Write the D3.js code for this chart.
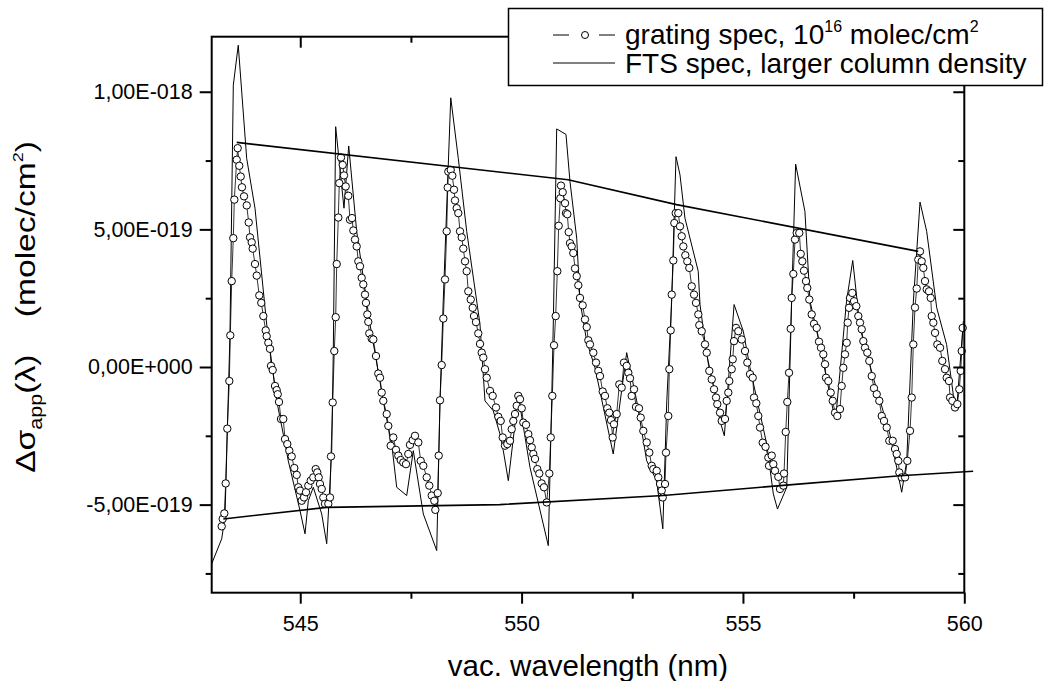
<!DOCTYPE html>
<html>
<head>
<meta charset="utf-8">
<script src="https://cdn.jsdelivr.net/npm/d3@7"></script>
<style>
  body { margin: 0; background: #fff; }
  svg { font-family: Arial, "Liberation Sans", sans-serif; }
</style>
</head>
<body>
<svg id="chart" width="1051" height="681"></svg>
<script>
// all y values below are in units of 1e-18 molec/cm2
const yUnit = 1e-18;

// grating spectrum, 10^16 molec/cm2 : [vac. wavelength nm, delta sigma]
const gratingSpec = [[543.226,-0.579],[543.248,-0.552],[543.285,-0.532],[543.316,-0.423],[543.352,-0.224],[543.398,-0.051],[543.420,0.115],[543.452,0.312],[543.488,0.468],[543.511,0.608],[543.565,0.753],[543.587,0.795],[543.623,0.731],[543.655,0.692],[543.684,0.653],[543.730,0.620],[543.791,0.587],[543.836,0.525],[543.865,0.471],[543.904,0.453],[543.926,0.430],[543.978,0.374],[544.017,0.332],[544.075,0.260],[544.120,0.233],[544.166,0.185],[544.220,0.133],[544.242,0.112],[544.279,0.088],[544.317,0.066],[544.340,0.004],[544.378,-0.011],[544.430,-0.069],[544.468,-0.084],[544.491,-0.099],[544.520,-0.127],[544.565,-0.189],[544.617,-0.189],[544.656,-0.262],[544.708,-0.280],[544.753,-0.304],[544.807,-0.325],[544.866,-0.367],[544.920,-0.392],[544.956,-0.437],[544.995,-0.449],[545.033,-0.486],[545.085,-0.474],[545.130,-0.455],[545.182,-0.431],[545.236,-0.413],[545.295,-0.401],[545.349,-0.371],[545.385,-0.383],[545.417,-0.401],[545.446,-0.425],[545.485,-0.443],[545.521,-0.474],[545.559,-0.497],[545.634,-0.497],[545.672,-0.474],[545.695,-0.325],[545.733,-0.129],[545.769,0.058],[545.801,0.181],[545.824,0.374],[545.860,0.543],[545.882,0.668],[545.921,0.761],[545.959,0.734],[545.988,0.696],[546.027,0.656],[546.086,0.622],[546.124,0.535],[546.169,0.541],[546.199,0.496],[546.237,0.463],[546.275,0.438],[546.312,0.384],[546.350,0.366],[546.388,0.324],[546.424,0.300],[546.463,0.263],[546.485,0.233],[546.515,0.191],[546.537,0.164],[546.560,0.122],[546.614,0.103],[546.650,0.100],[546.711,0.040],[546.763,-0.024],[546.802,-0.039],[546.840,-0.093],[546.876,-0.123],[546.953,-0.171],[546.989,-0.214],[547.043,-0.286],[547.102,-0.256],[547.163,-0.301],[547.215,-0.322],[547.269,-0.338],[547.328,-0.347],[547.389,-0.353],[547.441,-0.316],[547.479,-0.283],[547.540,-0.266],[547.592,-0.250],[547.667,-0.274],[547.721,-0.341],[547.780,-0.359],[547.857,-0.401],[547.915,-0.431],[547.970,-0.467],[548.028,-0.486],[548.051,-0.519],[548.105,-0.458],[548.128,-0.322],[548.157,-0.121],[548.195,0.007],[548.232,0.176],[548.270,0.318],[548.308,0.493],[548.331,0.652],[548.345,0.710],[548.399,0.716],[548.435,0.695],[548.473,0.644],[548.496,0.605],[548.534,0.577],[548.570,0.559],[548.609,0.493],[548.647,0.471],[548.683,0.430],[548.722,0.384],[548.760,0.348],[548.796,0.275],[548.851,0.245],[548.896,0.215],[548.925,0.185],[548.970,0.163],[549.022,0.122],[549.061,0.084],[549.099,0.052],[549.135,0.034],[549.174,-0.008],[549.212,-0.039],[549.287,-0.087],[549.347,-0.105],[549.422,-0.147],[549.474,-0.181],[549.528,-0.196],[549.573,-0.256],[549.625,-0.286],[549.677,-0.280],[549.738,-0.268],[549.777,-0.226],[549.813,-0.196],[549.851,-0.171],[549.890,-0.141],[549.926,-0.105],[549.964,-0.117],[550.003,-0.150],[550.039,-0.202],[550.100,-0.210],[550.152,-0.244],[550.190,-0.266],[550.229,-0.292],[550.265,-0.316],[550.303,-0.334],[550.355,-0.371],[550.400,-0.387],[550.454,-0.423],[550.506,-0.437],[550.567,-0.492],[550.626,-0.387],[550.658,-0.256],[550.694,-0.105],[550.732,0.079],[550.770,0.185],[550.807,0.348],[550.838,0.513],[550.875,0.613],[550.890,0.659],[550.929,0.635],[550.981,0.595],[551.003,0.559],[551.033,0.555],[551.064,0.490],[551.094,0.450],[551.132,0.438],[551.168,0.414],[551.207,0.358],[551.245,0.330],[551.281,0.297],[551.319,0.251],[551.380,0.224],[551.432,0.173],[551.471,0.145],[551.507,0.097],[551.545,0.082],[551.620,0.052],[551.681,0.016],[551.733,-0.014],[551.771,-0.033],[551.832,-0.089],[551.884,-0.105],[551.936,-0.150],[551.981,-0.166],[552.020,-0.193],[552.058,-0.256],[552.087,-0.208],[552.148,-0.171],[552.207,-0.063],[552.261,-0.075],[552.313,0.016],[552.374,0.004],[552.411,-0.021],[552.449,-0.041],[552.487,-0.105],[552.539,-0.081],[552.584,-0.145],[552.652,-0.150],[552.691,-0.184],[552.749,-0.232],[552.826,-0.274],[552.885,-0.311],[552.939,-0.359],[552.975,-0.371],[553.052,-0.377],[553.088,-0.401],[553.127,-0.425],[553.165,-0.449],[553.188,-0.474],[553.240,-0.425],[553.262,-0.311],[553.314,-0.178],[553.337,-0.008],[553.368,0.133],[553.391,0.263],[553.427,0.387],[553.450,0.523],[553.481,0.559],[553.540,0.559],[553.578,0.511],[553.617,0.475],[553.653,0.438],[553.698,0.406],[553.743,0.384],[553.788,0.360],[553.843,0.293],[553.895,0.263],[553.940,0.233],[553.992,0.191],[554.014,0.152],[554.069,0.130],[554.143,0.082],[554.182,0.052],[554.240,-0.014],[554.295,-0.045],[554.347,-0.081],[554.392,-0.111],[554.421,-0.135],[554.482,-0.166],[554.520,-0.196],[554.595,-0.189],[554.633,-0.123],[554.669,-0.093],[554.692,-0.051],[554.746,-0.008],[554.769,0.028],[554.798,0.094],[554.843,0.142],[554.895,0.130],[554.972,0.100],[555.047,0.058],[555.099,0.016],[555.160,-0.026],[555.221,-0.039],[555.250,-0.111],[555.302,-0.132],[555.347,-0.178],[555.386,-0.220],[555.447,-0.275],[555.510,-0.290],[555.573,-0.329],[555.589,-0.359],[555.650,-0.322],[555.686,-0.353],[555.724,-0.377],[555.799,-0.399],[555.837,-0.443],[555.912,-0.431],[555.928,-0.387],[555.966,-0.236],[556.002,-0.127],[556.041,-0.021],[556.079,0.139],[556.101,0.251],[556.138,0.338],[556.176,0.463],[556.214,0.487],[556.273,0.487],[556.305,0.411],[556.341,0.384],[556.379,0.350],[556.424,0.312],[556.454,0.287],[556.499,0.245],[556.553,0.191],[556.605,0.157],[556.666,0.142],[556.718,0.092],[556.763,0.070],[556.815,0.046],[556.854,0.010],[556.876,-0.039],[556.928,-0.051],[556.982,-0.093],[557.028,-0.123],[557.080,-0.166],[557.131,-0.178],[557.192,-0.153],[557.230,-0.069],[557.267,-0.003],[557.305,0.046],[557.344,0.088],[557.366,0.161],[557.396,0.215],[557.418,0.251],[557.470,0.269],[557.509,0.239],[557.561,0.221],[557.606,0.185],[557.644,0.161],[557.683,0.137],[557.719,0.094],[557.757,0.070],[557.809,0.052],[557.854,0.022],[557.909,-0.033],[557.960,-0.077],[558.022,-0.099],[558.080,-0.123],[558.135,-0.178],[558.187,-0.196],[558.248,-0.220],[558.306,-0.268],[558.383,-0.268],[558.435,-0.298],[558.473,-0.316],[558.510,-0.341],[558.532,-0.383],[558.586,-0.401],[558.661,-0.401],[558.713,-0.341],[558.774,-0.232],[558.812,-0.111],[558.848,0.082],[558.886,0.216],[558.925,0.285],[558.961,0.390],[558.999,0.420],[559.038,0.384],[559.074,0.360],[559.112,0.312],[559.151,0.282],[559.203,0.275],[559.241,0.251],[559.264,0.185],[559.300,0.161],[559.339,0.124],[559.391,0.082],[559.452,0.070],[559.503,0.022],[559.564,-0.008],[559.603,-0.039],[559.655,-0.051],[559.678,-0.111],[559.729,-0.123],[559.790,-0.147],[559.842,-0.135],[559.887,-0.081],[559.919,-0.014],[559.942,0.058],[559.964,0.142]];

// FTS spectrum, larger column density
const ftsSpec = [[543.000,-0.715],[543.226,-0.624],[543.300,-0.546],[543.413,0.120],[543.488,1.024],[543.600,1.169],[543.790,0.758],[543.978,0.577],[544.242,0.156],[544.468,-0.123],[544.617,-0.244],[544.730,-0.341],[544.995,-0.522],[545.108,-0.606],[545.182,-0.486],[545.295,-0.437],[545.485,-0.534],[545.598,-0.642],[545.711,-0.304],[545.747,0.058],[545.800,0.873],[545.988,0.577],[546.095,0.803],[546.275,0.493],[546.576,0.155],[546.915,-0.159],[547.066,-0.280],[547.179,-0.437],[547.405,-0.467],[547.554,-0.304],[547.780,-0.534],[548.083,-0.667],[548.157,-0.123],[548.230,0.239],[548.400,0.978],[548.570,0.758],[548.760,0.493],[549.060,0.156],[549.173,-0.123],[549.360,-0.159],[549.510,-0.243],[549.587,-0.304],[549.700,-0.413],[549.926,-0.105],[550.190,-0.365],[550.603,-0.649],[550.680,-0.123],[550.716,0.156],[550.793,0.865],[551.003,0.845],[551.093,0.674],[551.245,0.468],[551.320,0.239],[551.470,0.094],[551.658,-0.003],[552.070,-0.316],[552.374,0.052],[552.600,-0.123],[552.826,-0.341],[553.050,-0.413],[553.190,-0.588],[553.280,-0.123],[553.390,0.239],[553.488,0.764],[553.578,0.698],[553.690,0.541],[553.990,0.348],[554.030,0.227],[554.180,0.046],[554.330,-0.063],[554.480,-0.196],[554.580,-0.250],[554.800,0.227],[555.008,0.130],[555.160,-0.003],[555.537,-0.280],[555.686,-0.461],[555.780,-0.516],[555.990,-0.437],[556.100,0.239],[556.190,0.737],[556.400,0.565],[556.515,0.239],[556.700,0.106],[557.040,-0.159],[557.100,-0.178],[557.340,0.239],[557.480,0.387],[557.645,0.142],[557.945,-0.039],[558.320,-0.244],[558.586,-0.455],[558.700,-0.341],[558.850,0.239],[559.000,0.599],[559.150,0.493],[559.377,0.215],[559.600,0.082],[559.750,-0.099],[559.830,-0.147],[559.980,0.167]];

// the two straight guide lines drawn over the spectra
const upperLine = [[543.565,0.816],[551.050,0.680],[553.500,0.590],[558.960,0.420]];
const lowerLine = [[543.262,-0.552],[545.598,-0.510],[549.510,-0.500],[553.200,-0.467],[555.840,-0.431],[558.550,-0.395],[560.200,-0.379]];

const xDomain = [543, 560];
const yDomain = [-0.82, 1.2];
const xTicks = [545, 550, 555, 560];
const xMinorTicks = [547.5, 552.5, 557.5];
const yTicks = [-0.5, 0, 0.5, 1.0];
const yMinorTicks = [-0.75, -0.25, 0.25, 0.75];

const xTitle = "vac. wavelength (nm)";
const legendNames = ["grating spec, 10", "FTS spec, larger column density"];

const plot = {left: 211.7, right: 964.3, top: 36.7, bottom: 592.7};
const svg = d3.select("#chart");

const x = d3.scaleLinear().domain(xDomain).range([plot.left, plot.right]);
const y = d3.scaleLinear().domain(yDomain).range([plot.bottom, plot.top]);

// 1,00E-018 style labels
function sciComma(v) {
    const val = v * yUnit;
    if (Math.abs(v) < 1e-12) return "0,00E+000";
    const e = Math.floor(Math.log10(Math.abs(val)) + 1e-9);
    const m = val / Math.pow(10, e);
    return m.toFixed(2).replace(".", ",") + "E" + (e < 0 ? "-" : "+") + String(Math.abs(e)).padStart(3, "0");
}

const line = d3.line().x(d => x(d[0])).y(d => y(d[1]));

// FTS line
svg.append("path")
    .datum(ftsSpec)
    .attr("fill", "none")
    .attr("stroke", "#000")
    .attr("stroke-width", 1)
    .attr("d", line);

// grating line + circles
svg.append("path")
    .datum(gratingSpec)
    .attr("fill", "none")
    .attr("stroke", "#000")
    .attr("stroke-width", 0.8)
    .attr("d", line);

svg.append("g")
    .selectAll("circle")
    .data(gratingSpec)
    .join("circle")
    .attr("cx", d => x(d[0]))
    .attr("cy", d => y(d[1]))
    .attr("r", 3.7)
    .attr("fill", "#fff")
    .attr("stroke", "#000")
    .attr("stroke-width", 1);

// guide lines
[upperLine, lowerLine].forEach(l => {
    svg.append("path")
        .datum(l)
        .attr("fill", "none")
        .attr("stroke", "#000")
        .attr("stroke-width", 1.6)
        .attr("d", line);
});

// axes
function styleAxis(g) {
    g.select(".domain").remove();
    g.selectAll(".tick line").attr("stroke", "#000").attr("stroke-width", 2);
    g.selectAll(".tick text").attr("fill", "#000").attr("font-size", 21.5).attr("font-family", "Arial, 'Liberation Sans', sans-serif");
}

svg.append("g")
    .attr("transform", `translate(0,${plot.bottom})`)
    .call(d3.axisBottom(x).tickValues(xTicks).tickSize(11).tickPadding(12).tickFormat(d3.format("d")))
    .call(styleAxis);
svg.append("g")
    .attr("transform", `translate(0,${plot.bottom})`)
    .call(d3.axisBottom(x).tickValues(xMinorTicks).tickSize(6).tickFormat(""))
    .call(styleAxis);
svg.append("g")
    .attr("transform", `translate(0,${plot.top})`)
    .call(d3.axisBottom(x).tickValues(xTicks).tickSize(11).tickFormat(""))
    .call(styleAxis);
svg.append("g")
    .attr("transform", `translate(0,${plot.top})`)
    .call(d3.axisBottom(x).tickValues(xMinorTicks).tickSize(6).tickFormat(""))
    .call(styleAxis);

svg.append("g")
    .attr("transform", `translate(${plot.left},0)`)
    .call(d3.axisLeft(y).tickValues(yTicks).tickSize(12).tickPadding(7).tickFormat(sciComma))
    .call(styleAxis);
svg.append("g")
    .attr("transform", `translate(${plot.left},0)`)
    .call(d3.axisLeft(y).tickValues(yMinorTicks).tickSize(6).tickFormat(""))
    .call(styleAxis);
svg.append("g")
    .attr("transform", `translate(${plot.right},0)`)
    .call(d3.axisLeft(y).tickValues(yTicks).tickSize(11).tickFormat(""))
    .call(styleAxis);
svg.append("g")
    .attr("transform", `translate(${plot.right},0)`)
    .call(d3.axisLeft(y).tickValues(yMinorTicks).tickSize(6).tickFormat(""))
    .call(styleAxis);

// frame
svg.append("rect")
    .attr("x", plot.left)
    .attr("y", plot.top)
    .attr("width", plot.right - plot.left)
    .attr("height", plot.bottom - plot.top)
    .attr("fill", "none")
    .attr("stroke", "#000")
    .attr("stroke-width", 2);

// axis titles
svg.append("text")
    .attr("x", (plot.left + plot.right) / 2)
    .attr("y", 676)
    .attr("text-anchor", "middle")
    .attr("font-size", 29.5)
    .text(xTitle);

const yt = svg.append("text")
    .attr("transform", "translate(35,307) rotate(-90) scale(1.2,1)")
    .attr("text-anchor", "middle")
    .attr("font-size", 28);
yt.append("tspan").text("\u0394\u03c3");
yt.append("tspan").attr("font-size", 18).attr("dy", 7).text("app");
yt.append("tspan").attr("dy", -7).text("(\u03bb)\u00a0\u00a0\u00a0\u00a0(molec/cm");
yt.append("tspan").attr("font-size", 15).attr("dy", -12).text("2");
yt.append("tspan").attr("dy", 12).text(")");

// legend
const lg = svg.append("g");
lg.append("rect")
    .attr("x", 508.5).attr("y", 8.5)
    .attr("width", 534).attr("height", 77)
    .attr("fill", "#fff")
    .attr("stroke", "#000")
    .attr("stroke-width", 1.5);

const row1 = 35, row2 = 63;
lg.append("line").attr("x1", 553).attr("x2", 569).attr("y1", row1).attr("y2", row1).attr("stroke", "#000");
lg.append("line").attr("x1", 599).attr("x2", 615).attr("y1", row1).attr("y2", row1).attr("stroke", "#000");
lg.append("circle").attr("cx", 585).attr("cy", row1).attr("r", 3.5).attr("fill", "#fff").attr("stroke", "#000");
lg.append("line").attr("x1", 553).attr("x2", 615).attr("y1", row2).attr("y2", row2).attr("stroke", "#000");

const t1 = lg.append("text").attr("x", 625).attr("y", row1 + 9).attr("font-size", 28);
t1.append("tspan").text(legendNames[0]);
t1.append("tspan").attr("font-size", 16).attr("dy", -12).text("16");
t1.append("tspan").attr("dy", 12).text(" molec/cm");
t1.append("tspan").attr("font-size", 16).attr("dy", -12).text("2");

lg.append("text").attr("x", 625).attr("y", row2 + 10).attr("font-size", 28).text(legendNames[1]);
</script>
</body>
</html>
